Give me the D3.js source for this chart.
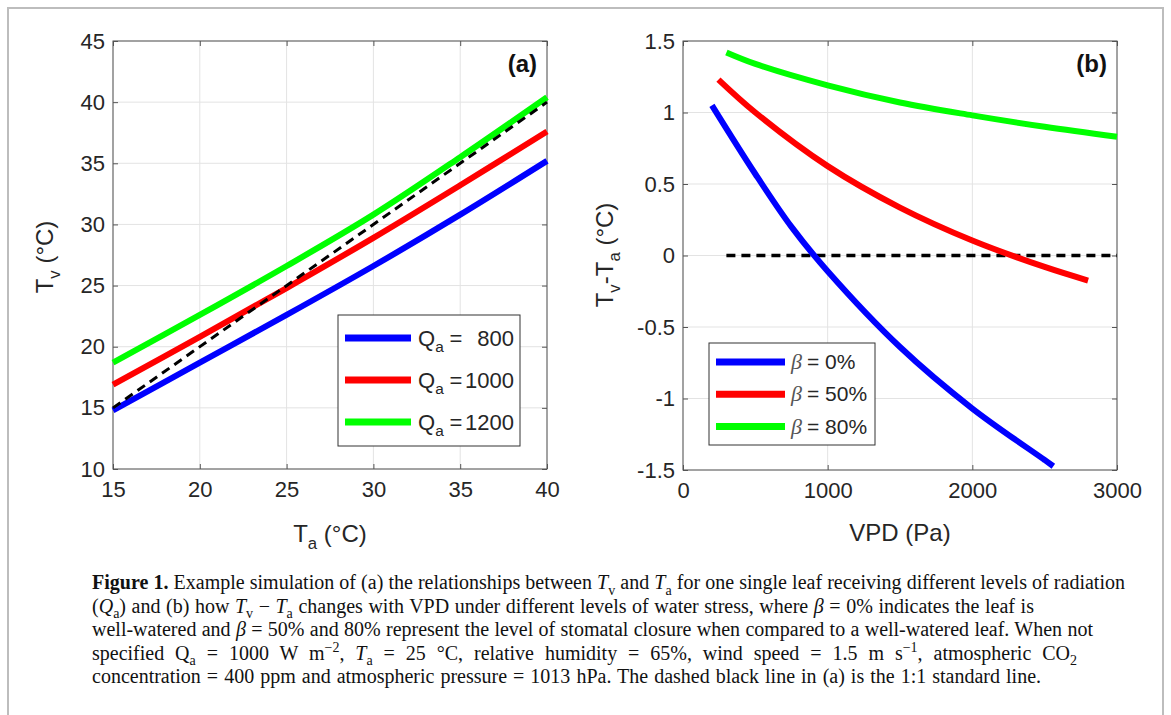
<!DOCTYPE html>
<html>
<head>
<meta charset="utf-8">
<script src="https://cdn.jsdelivr.net/npm/d3@7"></script>
<style>
  body { margin: 0; background: #fff; }
  svg { display: block; }
</style>
</head>
<body>
<div id="chart"></div>
<script>
// ---- panel (a): leaf temperature vs air temperature
const taValues = [15, 20, 25, 30, 35, 40]
const tvQ800 = [14.8, 18.7, 22.6, 26.6, 30.8, 35.2]
const tvQ1000 = [16.9, 20.8, 24.8, 28.9, 33.2, 37.6]
const tvQ1200 = [18.7, 22.6, 26.6, 30.8, 35.5, 40.4]
const oneToOne = [15, 40]
const qaLabels = ['800', '1000', '1200']
const aXTicks = [15, 20, 25, 30, 35, 40]
const aYTicks = [10, 15, 20, 25, 30, 35, 40, 45]

// ---- panel (b): Tv - Ta vs VPD
const vpdBeta0 = [200, 500, 750, 1000, 1500, 2000, 2500, 2560]
const dtBeta0 = [1.05, 0.57, 0.20, -0.11, -0.64, -1.07, -1.43, -1.474]
const vpdBeta50 = [245, 500, 1000, 1500, 2000, 2500, 2800]
const dtBeta50 = [1.23, 1.0, 0.625, 0.335, 0.105, -0.08, -0.175]
const vpdBeta80 = [300, 500, 1000, 1500, 2000, 2500, 3000]
const dtBeta80 = [1.42, 1.34, 1.19, 1.07, 0.98, 0.90, 0.83]
const zeroLine = [300, 3000]
const betaLabels = ['0%', '50%', '80%']
const bXTicks = [0, 1000, 2000, 3000]
const bYTicks = [-1.5, -1, -0.5, 0, 0.5, 1, 1.5]

const colors = ['#0000ff', '#ff0000', '#00ff00']
const sans = 'Liberation Sans, Arial, sans-serif'
const serif = 'Liberation Serif, Times New Roman, serif'
const axisColor = '#262626'

const w = 1171
const h = 715

const svg = d3.select('#chart')
  .append('svg')
  .attr('width', w)
  .attr('height', h)

svg.append('rect').attr('width', w).attr('height', h).attr('fill', '#fff')

// outer frame of the figure
svg.append('path')
  .attr('d', 'M8,715V8H1163V715')
  .attr('fill', 'none')
  .attr('stroke', '#bdbdbd')
  .attr('stroke-width', 2)

// rich text helper: segments {t, i, b, sub, sup}
const rich = (sel, segs, fs) => {
  let shift = 0
  segs.forEach(s => {
    const ts = sel.append('tspan').text(s.t)
    let target = 0
    if (s.sub) target = fs * 0.28
    if (s.sup) target = -fs * 0.38
    if (target !== shift) ts.attr('dy', target - shift)
    shift = target
    if (s.sub || s.sup) ts.attr('font-size', fs * 0.7)
    if (s.i) ts.attr('font-style', 'italic')
    if (s.b) ts.attr('font-weight', 'bold')
  })
  return sel
}

const drawPanel = (opt) => {
  const { x, y, xTicks, yTicks, tag } = opt
  const g = svg.append('g')
  const [x0, x1] = x.range()
  const [y0, y1] = y.range()

  // grid
  g.append('g').selectAll('line').data(xTicks).enter().append('line')
    .attr('x1', d => x(d)).attr('x2', d => x(d))
    .attr('y1', y0).attr('y2', y1)
    .attr('stroke', '#e3e3e3').attr('stroke-width', 1)
  g.append('g').selectAll('line').data(yTicks).enter().append('line')
    .attr('x1', x0).attr('x2', x1)
    .attr('y1', d => y(d)).attr('y2', d => y(d))
    .attr('stroke', '#e3e3e3').attr('stroke-width', 1)

  // axes, ticks pointing inward like matlab
  const ax = g.append('g')
    .attr('transform', 'translate(0,' + y0 + ')')
    .call(d3.axisBottom(x).tickValues(xTicks).tickSize(-5).tickPadding(12).tickFormat(d => String(d)))
  const axTop = g.append('g')
    .attr('transform', 'translate(0,' + y1 + ')')
    .call(d3.axisTop(x).tickValues(xTicks).tickSize(-5).tickFormat(''))
  const ay = g.append('g')
    .attr('transform', 'translate(' + x0 + ',0)')
    .call(d3.axisLeft(y).tickValues(yTicks).tickSize(-5).tickPadding(8).tickFormat(d => String(d)))
  const ayR = g.append('g')
    .attr('transform', 'translate(' + x1 + ',0)')
    .call(d3.axisRight(y).tickValues(yTicks).tickSize(-5).tickFormat(''))
  ;[ax, axTop, ay, ayR].forEach(a => {
    a.select('.domain').remove()
    a.selectAll('line').attr('stroke', '#555')
    a.selectAll('text')
      .attr('font-family', sans)
      .attr('font-size', 22)
      .attr('fill', axisColor)
  })
  ax.selectAll('text').attr('dy', '0.71em')

  g.append('rect')
    .attr('x', x0).attr('y', y1)
    .attr('width', x1 - x0).attr('height', y0 - y1)
    .attr('fill', 'none')
    .attr('stroke', '#555')
    .attr('stroke-width', 1)

  g.append('text')
    .attr('x', x1 - 10).attr('y', y1 + 31)
    .attr('text-anchor', 'end')
    .attr('font-family', sans)
    .attr('font-weight', 'bold')
    .attr('font-size', 24)
    .attr('fill', '#111')
    .text(tag)
  return g
}

// ---------- panel (a)
const xA = d3.scaleLinear().domain([15, 40]).range([113, 547])
const yA = d3.scaleLinear().domain([10, 45]).range([469, 41])
const gA = drawPanel({ x: xA, y: yA, xTicks: aXTicks, yTicks: aYTicks, tag: '(a)' })

const lineA = d3.line()
  .x(d => xA(d[0]))
  .y(d => yA(d[1]))
  .curve(d3.curveCatmullRom.alpha(0.5))

;[tvQ800, tvQ1000, tvQ1200].forEach((series, i) => {
  gA.append('path')
    .datum(taValues.map((t, j) => [t, series[j]]))
    .attr('d', lineA)
    .attr('fill', 'none')
    .attr('stroke', colors[i])
    .attr('stroke-width', 6)
})
gA.append('path')
  .datum(oneToOne.map(t => [t, t]))
  .attr('d', lineA)
  .attr('fill', 'none')
  .attr('stroke', '#000')
  .attr('stroke-width', 3)
  .attr('stroke-dasharray', '9,6')

// legend (a)
const legA = gA.append('g')
legA.append('rect')
  .attr('x', 338).attr('y', 315).attr('width', 182).attr('height', 131)
  .attr('fill', '#fff').attr('stroke', '#333').attr('stroke-width', 1)
qaLabels.forEach((lab, i) => {
  const cy = 338 + i * 42
  legA.append('line')
    .attr('x1', 345).attr('x2', 411).attr('y1', cy).attr('y2', cy)
    .attr('stroke', colors[i]).attr('stroke-width', 7)
  const t = legA.append('text')
    .attr('x', 418).attr('y', cy + 8)
    .attr('font-family', sans).attr('font-size', 22).attr('fill', axisColor)
  rich(t, [{ t: 'Q' }, { t: 'a', sub: true }], 22)
  legA.append('text')
    .attr('x', 456).attr('y', cy + 8)
    .attr('text-anchor', 'middle')
    .attr('font-family', sans).attr('font-size', 22).attr('fill', axisColor)
    .text('=')
  legA.append('text')
    .attr('x', 514).attr('y', cy + 8)
    .attr('text-anchor', 'end')
    .attr('font-family', sans).attr('font-size', 22).attr('fill', axisColor)
    .text(lab)
})

// axis labels (a)
rich(svg.append('text')
  .attr('x', 330).attr('y', 542)
  .attr('text-anchor', 'middle')
  .attr('font-family', sans).attr('font-size', 24).attr('fill', axisColor),
  [{ t: 'T' }, { t: 'a', sub: true }, { t: ' (°C)' }], 24)
rich(svg.append('text')
  .attr('transform', 'translate(53,257) rotate(-90)')
  .attr('text-anchor', 'middle')
  .attr('font-family', sans).attr('font-size', 24).attr('fill', axisColor),
  [{ t: 'T' }, { t: 'v', sub: true }, { t: ' (°C)' }], 24)

// ---------- panel (b)
const xB = d3.scaleLinear().domain([0, 3000]).range([683, 1117])
const yB = d3.scaleLinear().domain([-1.5, 1.5]).range([470, 41])
const gB = drawPanel({ x: xB, y: yB, xTicks: bXTicks, yTicks: bYTicks, tag: '(b)' })

const lineB = d3.line()
  .x(d => xB(d[0]))
  .y(d => yB(d[1]))
  .curve(d3.curveCatmullRom.alpha(0.5))

gB.append('path')
  .datum(zeroLine.map(v => [v, 0]))
  .attr('d', lineB)
  .attr('fill', 'none')
  .attr('stroke', '#000')
  .attr('stroke-width', 3.5)
  .attr('stroke-dasharray', '9,6')

const bSeries = [[vpdBeta0, dtBeta0], [vpdBeta50, dtBeta50], [vpdBeta80, dtBeta80]]
bSeries.forEach((s, i) => {
  gB.append('path')
    .datum(s[0].map((v, j) => [v, s[1][j]]))
    .attr('d', lineB)
    .attr('fill', 'none')
    .attr('stroke', colors[i])
    .attr('stroke-width', 6)
})

// legend (b)
const legB = gB.append('g')
legB.append('rect')
  .attr('x', 709).attr('y', 343).attr('width', 166).attr('height', 102)
  .attr('fill', '#fff').attr('stroke', '#333').attr('stroke-width', 1)
betaLabels.forEach((lab, i) => {
  const cy = 362 + i * 32.3
  legB.append('line')
    .attr('x1', 716).attr('x2', 785).attr('y1', cy).attr('y2', cy)
    .attr('stroke', colors[i]).attr('stroke-width', 7)
  legB.append('text')
    .attr('x', 791).attr('y', cy + 7)
    .attr('font-family', serif).attr('font-style', 'italic')
    .attr('font-size', 22).attr('fill', '#555')
    .text('β')
  legB.append('text')
    .attr('x', 807).attr('y', cy + 7)
    .attr('font-family', sans).attr('font-size', 21).attr('fill', axisColor)
    .text('= ' + lab)
})

// axis labels (b)
svg.append('text')
  .attr('x', 900).attr('y', 541)
  .attr('text-anchor', 'middle')
  .attr('font-family', sans).attr('font-size', 24).attr('fill', axisColor)
  .text('VPD (Pa)')
rich(svg.append('text')
  .attr('transform', 'translate(613,255) rotate(-90)')
  .attr('text-anchor', 'middle')
  .attr('font-family', sans).attr('font-size', 24).attr('fill', axisColor),
  [{ t: 'T' }, { t: 'v', sub: true }, { t: '-T' }, { t: 'a', sub: true }, { t: ' (°C)' }], 24)

// ---------- caption
const captionLines = [
  [{ t: 'Figure 1.', b: true }, { t: ' Example simulation of (a) the relationships between ' }, { t: 'T', i: true }, { t: 'v', sub: true }, { t: ' and ' }, { t: 'T', i: true }, { t: 'a', sub: true }, { t: ' for one single leaf receiving different levels of radiation' }],
  [{ t: '(' }, { t: 'Q', i: true }, { t: 'a', sub: true }, { t: ') and (b) how ' }, { t: 'T', i: true }, { t: 'v', sub: true }, { t: ' − ' }, { t: 'T', i: true }, { t: 'a', sub: true }, { t: ' changes with VPD under different levels of water stress, where ' }, { t: 'β', i: true }, { t: ' = 0% indicates the leaf is' }],
  [{ t: 'well-watered and ' }, { t: 'β', i: true }, { t: ' = 50% and 80% represent the level of stomatal closure when compared to a well-watered leaf. When not' }],
  [{ t: 'specified Q' }, { t: 'a', sub: true }, { t: ' = 1000 W m' }, { t: '−2', sup: true }, { t: ', ' }, { t: 'T', i: true }, { t: 'a', sub: true }, { t: ' = 25 °C, relative humidity = 65%, wind speed = 1.5 m s' }, { t: '−1', sup: true }, { t: ', atmospheric CO' }, { t: '2', sub: true }],
  [{ t: 'concentration = 400 ppm and atmospheric pressure = 1013 hPa. The dashed black line in (a) is the 1:1 standard line.' }]
]
const captionEnds = [1125, 1034, 1093, 1077, 1041]
captionLines.forEach((segs, i) => {
  const t = svg.append('text')
    .attr('x', 92).attr('y', 589 + i * 23.5)
    .attr('font-family', serif).attr('font-size', 20).attr('fill', '#111')
  rich(t, segs, 20)
  // stretch the line with word spacing so it ends where the printed one does
  const natural = t.node().getComputedTextLength()
  const spaces = segs.map(s => s.t).join('').split(' ').length - 1
  const extra = (captionEnds[i] - 92 - natural) / spaces
  t.attr('word-spacing', Math.max(extra, 0).toFixed(2))
})
</script>
</body>
</html>
